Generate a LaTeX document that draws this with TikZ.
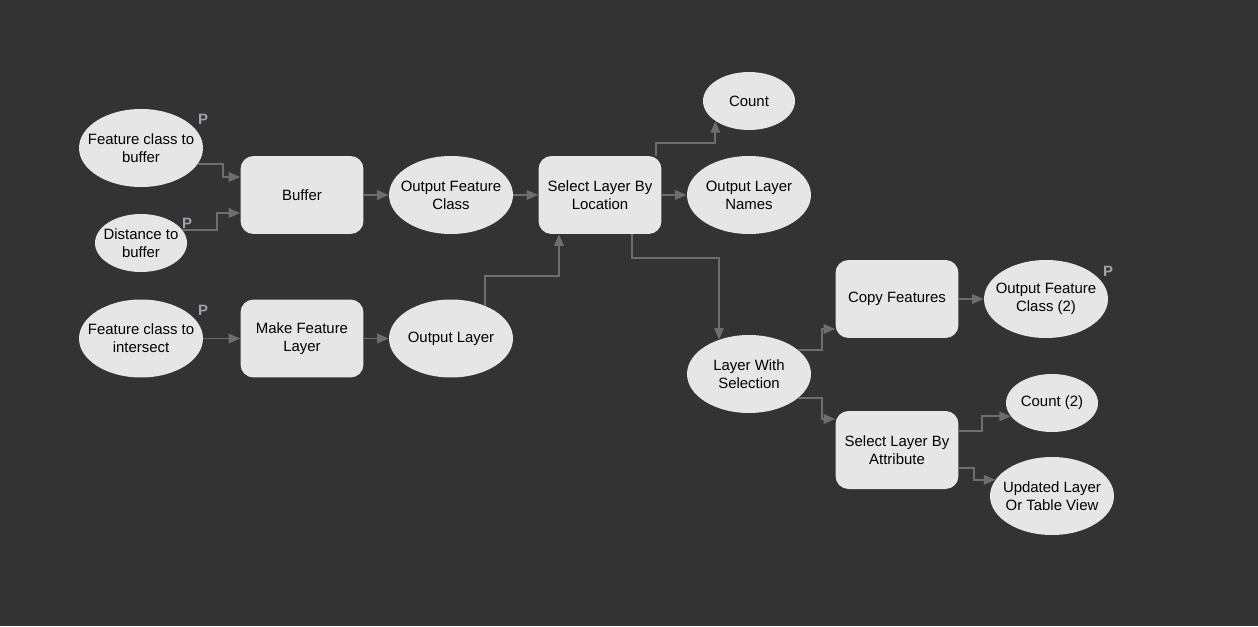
\documentclass[tikz,border=0pt]{standalone}
\usepackage{fontspec}
\setmainfont{Liberation Sans}
\usetikzlibrary{shapes.geometric,arrows.meta}
\definecolor{bgdark}{HTML}{333333}
\definecolor{nodefill}{HTML}{E6E6E6}
\definecolor{wire}{HTML}{6E6E6E}
\definecolor{pmark}{HTML}{A2A2AA}
\tikzset{
  tool/.style={rectangle, rounded corners=0.26cm, fill=nodefill,
    minimum width=2.46cm, minimum height=1.56cm, align=center,
    font=\fontsize{8.5}{10.2}\selectfont, inner sep=1pt},
  data/.style={ellipse, fill=nodefill, minimum width=2.48cm,
    minimum height=1.56cm, align=center, inner sep=-1.5cm,
    font=\fontsize{8.5}{10.2}\selectfont},
  smalldata/.style={data, minimum width=1.84cm, minimum height=1.16cm},
  pflag/.style={text=pmark, font=\fontsize{8.5}{10}\selectfont\bfseries},
  arr/.style={draw=wire, line width=1.1pt,
    -{Triangle[length=0.23cm,width=0.19cm]}}
}
\begin{document}
\begin{tikzpicture}[x=0.02cm,y=-0.02cm]
\fill[bgdark] (0,0) rectangle (1258,626);
\useasboundingbox (0,0) rectangle (1258,626);
% inputs
\node[data] (fcbuf) at (141,148) {Feature class to\\buffer};
\node[smalldata] (distbuf) at (141,243) {Distance to\\buffer};
\node[data] (fcint) at (141,338.5) {Feature class to\\intersect};
\node[pflag] (pfcbuf) at (203,119) {P};
\node[pflag] (pdist) at (187,223) {P};
\node[pflag] (pfcint) at (203,310) {P};
% tools and outputs
\node[tool] (buffer) at (302,195) {Buffer};
\node[tool] (makefl) at (302,338.5) {Make Feature\\Layer};
\node[data] (outfc) at (451,195) {Output Feature\\Class};
\node[data] (outlayer) at (451,338.5) {Output Layer};
\node[tool] (sellayerloc) at (600,195) {Select Layer By\\Location};
\node[smalldata] (count) at (749,101) {Count};
\node[data] (outlayernames) at (749,195) {Output Layer\\Names};
\node[data] (layersel) at (749,374) {Layer With\\Selection};
\node[tool] (copyfeat) at (897,299) {Copy Features};
\node[tool] (selattr) at (897,450) {Select Layer By\\Attribute};
\node[data] (outfc2) at (1046,299) {Output Feature\\Class (2)};
\node[pflag] (poutfc2) at (1108,271) {P};
\node[smalldata] (count2) at (1052,403) {Count (2)};
\node[data] (updated) at (1052,496) {Updated Layer\\Or Table View};
% connectors
\draw[arr] (fcbuf.-16) -- ++(25,0) |- ([yshift=0.36cm]buffer.west);
\draw[arr] (distbuf.18) -- ++(35,0) |- ([yshift=-0.36cm]buffer.west);
\draw[arr] (buffer.east) -- (outfc.west);
\draw[arr] (outfc.east) -- (sellayerloc.west);
\draw[arr] (fcint.east) -- (makefl.west);
\draw[arr] (makefl.east) -- (outlayer.west);
\draw[arr] (outlayer.44) -- ++(0,-30) -| ([xshift=-0.82cm]sellayerloc.south);
\draw[arr] ([xshift=1.12cm]sellayerloc.north) -- ++(0,-13) -| (count.211);
\draw[arr] (sellayerloc.east) -- (outlayernames.west);
\draw[arr] ([xshift=0.64cm]sellayerloc.south) -- ++(0,24) -| (layersel.131);
\draw[arr] (layersel.26) -- ++(24,0) |- ([yshift=-0.6cm]copyfeat.west);
\draw[arr] (layersel.-26) -- ++(24,0) |- ([yshift=0.62cm]selattr.west);
\draw[arr] (copyfeat.east) -- (outfc2.west);
\draw[arr] ([yshift=0.38cm]selattr.east) -- ++(23,0) |- (count2.198);
\draw[arr] ([yshift=-0.36cm]selattr.east) -- ++(15,0) |- (updated.164);
\end{tikzpicture}
\end{document}
